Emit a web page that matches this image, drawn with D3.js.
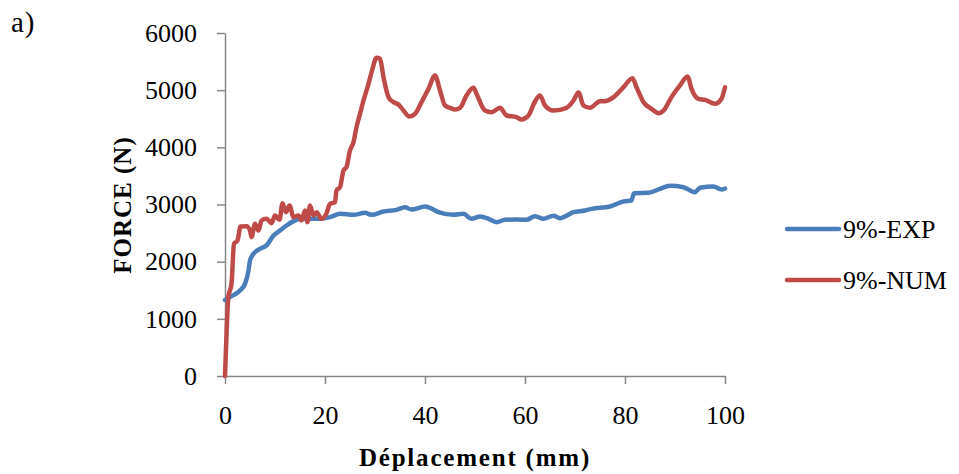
<!DOCTYPE html>
<html>
<head>
<meta charset="utf-8">
<script src="https://cdn.jsdelivr.net/npm/d3@7"></script>
<style>
  body { margin: 0; background: #fff; }
  text { font-family: "Liberation Serif", "Times New Roman", serif; fill: #000; }
</style>
</head>
<body>
<div id="chart"></div>
<script>
// 9%-EXP (experimental)
const expX = [0, 1, 3, 4, 4.7, 5, 5.7, 7, 8.3, 9.7, 11, 12.3, 13.7, 15, 17, 19, 21, 23, 25.7, 28, 29.3,
  31.7, 34.3, 36, 37.3, 40, 41, 42.7, 45.7, 47.7, 49.3, 51, 52.7, 54.3, 56, 58.3, 60.3, 62, 63.7,
  65.7, 67, 69.7, 72, 73.3, 77, 79.7, 81.3, 81.8, 84.7, 87, 89, 91.7, 94, 95, 97.7, 99.3, 100];
const expY = [1330, 1380, 1496, 1612, 1845, 2020, 2137, 2225, 2283, 2458, 2545, 2633, 2709, 2750, 2750,
  2750, 2778, 2837, 2819, 2854, 2819, 2877, 2907, 2953, 2912, 2965, 2942, 2866, 2819, 2837, 2750,
  2790, 2750, 2691, 2732, 2738, 2732, 2796, 2750, 2802, 2761, 2866, 2895, 2924, 2965, 3053, 3070,
  3198, 3204, 3274, 3327, 3303, 3216, 3292, 3315, 3262, 3280];

// 9%-NUM (numerical)
const numX = [0, 0.33, 0.67, 1.3, 1.8, 2.5, 3.1, 4.3, 5, 5.3, 6, 6.7, 7.3, 8.3, 9.3, 10, 10.9, 11.5,
  12.2, 12.9, 13.7, 14.7, 15.3, 16, 16.5, 17, 17.7, 18.3, 19.3, 20.3, 21, 22, 22.3, 23, 23.7, 24.3,
  25, 25.7, 26.3, 27, 27.7, 28.7, 29.5, 30.3, 31, 31.7, 32.7, 33.7, 34.7, 35.7, 36.9, 38, 39.3,
  40.7, 42, 43, 44, 45, 46, 47, 48.3, 49.7, 50.3, 52, 53.3, 55, 56.3, 58.3, 59.3, 60.7, 62, 63, 64,
  65.7, 68.3, 69.7, 70.7, 71.7, 73, 75, 76, 77.7, 79.7, 81.5, 82.3, 83.7, 85.3, 86.7, 87.7, 89.3,
  91, 92.5, 93.3, 94.7, 96, 98, 99.3, 100];
const numY = [0, 797, 1380, 1612, 2312, 2370, 2615, 2621, 2545, 2429, 2662, 2545, 2720, 2750, 2674,
  2808, 2732, 3024, 2866, 2983, 2778, 2808, 2720, 2895, 2691, 2983, 2808, 2866, 2750, 2849, 3012,
  3041, 3245, 3303, 3595, 3653, 3945, 4090, 4353, 4586, 4819, 5111, 5373, 5566, 5549, 5228, 4878,
  4790, 4749, 4644, 4539, 4586, 4790, 5024, 5257, 4995, 4732, 4691, 4662, 4691, 4907, 5041, 4936,
  4644, 4615, 4691, 4557, 4528, 4487, 4557, 4802, 4907, 4732, 4644, 4691, 4819, 4959, 4732, 4691,
  4808, 4808, 4878, 5053, 5210, 5053, 4790, 4674, 4598, 4644, 4878, 5082, 5239, 5024, 4849, 4831,
  4761, 4849, 5050];

const xTicks = [0, 20, 40, 60, 80, 100];
const yTicks = [0, 1000, 2000, 3000, 4000, 5000, 6000];
const seriesNames = ["9%-EXP", "9%-NUM"];
const seriesColors = ["#4a7ebb", "#be4b48"];

const width = 959, height = 474;
const margin = {top: 33, right: 234, bottom: 98, left: 225};
const plotW = width - margin.left - margin.right;
const plotH = height - margin.top - margin.bottom;

const svg = d3.select("#chart")
    .append("svg")
    .attr("width", width)
    .attr("height", height);

const g = svg.append("g")
    .attr("transform", `translate(${margin.left}, ${margin.top})`);

const x = d3.scaleLinear().domain([0, 100]).range([0, plotW]);
const y = d3.scaleLinear().domain([0, 6000]).range([plotH, 0]);

const axisColor = "#868686";

// x axis
const xAxis = g.append("g")
    .attr("transform", `translate(0, ${plotH})`)
    .call(d3.axisBottom(x).tickValues(xTicks).tickFormat(d3.format("d"))
        .tickSize(8).tickSizeOuter(0).tickPadding(22));
xAxis.select(".domain").attr("stroke", axisColor).attr("stroke-width", 1.5);
xAxis.selectAll(".tick line").attr("stroke", axisColor).attr("stroke-width", 1.5);
xAxis.selectAll(".tick text")
    .attr("font-family", "Liberation Serif")
    .attr("font-size", 26)
    .attr("fill", "#000");

// y axis
const yAxis = g.append("g")
    .call(d3.axisLeft(y).tickValues(yTicks).tickFormat(d3.format("d"))
        .tickSize(8).tickSizeOuter(0).tickPadding(20));
yAxis.select(".domain").attr("stroke", axisColor).attr("stroke-width", 1.5);
yAxis.selectAll(".tick line").attr("stroke", axisColor).attr("stroke-width", 1.5);
yAxis.selectAll(".tick text")
    .attr("font-family", "Liberation Serif")
    .attr("font-size", 26)
    .attr("fill", "#000");

// lines
const line = d3.line()
    .x(function (d) { return x(d[0]); })
    .y(function (d) { return y(d[1]); })
    .curve(d3.curveMonotoneX);

const series = [d3.zip(expX, expY), d3.zip(numX, numY)];

g.selectAll(".series")
    .data(series)
    .enter()
    .append("path")
    .attr("class", "series")
    .attr("d", line)
    .attr("fill", "none")
    .attr("stroke", function (d, i) { return seriesColors[i]; })
    .attr("stroke-width", 4.5)
    .attr("stroke-linejoin", "round")
    .attr("stroke-linecap", "round");

// axis titles
svg.append("text")
    .attr("transform", "translate(131, 205) rotate(-90)")
    .attr("text-anchor", "middle")
    .attr("font-size", 25)
    .attr("font-weight", "bold")
    .attr("letter-spacing", 1)
    .text("FORCE (N)");

svg.append("text")
    .attr("x", 475)
    .attr("y", 466)
    .attr("text-anchor", "middle")
    .attr("font-size", 25)
    .attr("font-weight", "bold")
    .attr("letter-spacing", 1.8)
    .text("Déplacement (mm)");

svg.append("text")
    .attr("x", 11)
    .attr("y", 32)
    .attr("font-size", 29)
    .attr("letter-spacing", 1)
    .text("a)");

// legend
const legend = svg.append("g").attr("transform", "translate(787, 229)");
seriesNames.forEach(function (name, i) {
    const row = legend.append("g").attr("transform", `translate(0, ${i * 51})`);
    row.append("line")
        .attr("x1", 0).attr("x2", 52)
        .attr("stroke", seriesColors[i])
        .attr("stroke-width", 4.5)
        .attr("stroke-linecap", "round");
    row.append("text")
        .attr("x", 56)
        .attr("y", 9)
        .attr("font-size", 26)
        .text(name);
});
</script>
</body>
</html>
